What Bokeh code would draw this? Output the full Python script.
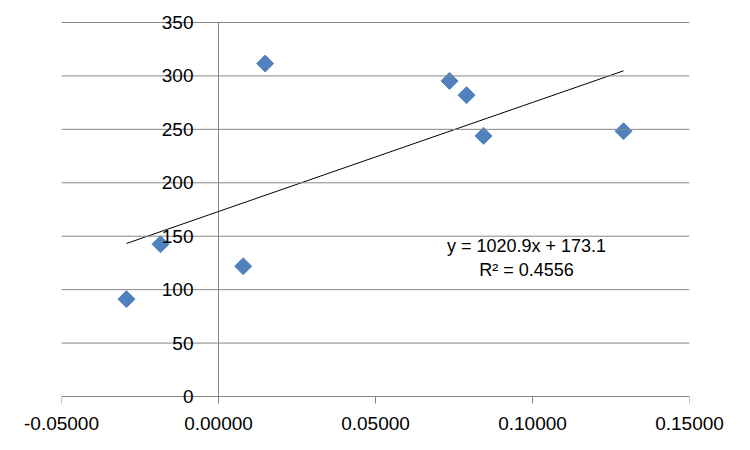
import numpy as np
from bokeh.plotting import figure
from bokeh.models import Range1d, FixedTicker, ColumnDataSource, Span, LabelSet, Label
from bokeh.core.properties import value
from bokeh.embed import file_html
from bokeh.resources import INLINE

# data
x_vals = [0.01487, 0.07357, 0.07900, 0.08440, 0.12900, -0.01847, 0.00786, -0.02930]
y_vals = [311.6, 295.3, 282.0, 243.9, 248.3, 142.5, 121.9, 91.1]
slope = 1020.9
intercept = 173.1
r2 = 0.4556
x_ticks = [-0.05, 0.0, 0.05, 0.10, 0.15]
x_tick_labels = ["-0.05000", "0.00000", "0.05000", "0.10000", "0.15000"]
y_ticks = [0, 50, 100, 150, 200, 250, 300, 350]
y_tick_labels = ["0", "50", "100", "150", "200", "250", "300", "350"]

FONT = "Liberation Sans"
GRAY = "#868686"

# layout (pixels)
FRAME_H_CORE = 374          # pixel span of 0..350
PAD = 10                    # extra frame space above 350 and below 0
PX_PER_UNIT = FRAME_H_CORE / (y_ticks[-1] - y_ticks[0])
pad_u = PAD / PX_PER_UNIT
TOP = 12
BOTTOM = 36
HEIGHT = TOP + FRAME_H_CORE + 2 * PAD + BOTTOM

p = figure(width=734, height=HEIGHT, output_backend="svg", toolbar_location=None,
           x_range=Range1d(x_ticks[0], x_ticks[-1]),
           y_range=Range1d(y_ticks[0] - pad_u, y_ticks[-1] + pad_u),
           min_border_left=61, min_border_right=45, min_border_top=TOP, min_border_bottom=BOTTOM)
p.outline_line_color = None
p.background_fill_color = "white"
p.border_fill_color = "white"

p.yaxis.visible = False
p.xgrid.visible = False
p.ygrid.visible = False

# horizontal gridlines (the one at 0 is the x axis line)
for t in y_ticks:
    p.add_layout(Span(location=t, dimension="width", line_color=GRAY, line_width=1))

# vertical axis line at x = 0
p.segment(x0=[0], y0=[y_ticks[0]], x1=[0], y1=[y_ticks[-1]], line_color=GRAY, line_width=1)

# x ticks, hanging below y = 0
tick_len_u = 7 / PX_PER_UNIT
p.segment(x0=x_ticks, y0=[0] * len(x_ticks), x1=x_ticks, y1=[-tick_len_u] * len(x_ticks),
          line_color=GRAY, line_width=1)

ax = p.xaxis[0]
ax.ticker = FixedTicker(ticks=x_ticks)
ax.major_label_overrides = {t: l for t, l in zip(x_ticks, x_tick_labels)}
ax.axis_line_color = None
ax.major_tick_line_color = None
ax.major_tick_in = 0
ax.major_tick_out = 0
ax.minor_tick_line_color = None
ax.major_label_standoff = 10
ax.major_label_text_font = FONT
ax.major_label_text_font_size = "19px"
ax.major_label_text_color = "black"

# y tick labels next to the crossing axis
ysrc = ColumnDataSource(dict(x=[0] * len(y_ticks), y=y_ticks, t=y_tick_labels))
p.add_layout(LabelSet(x="x", y="y", text="t", source=ysrc, x_offset=-25, text_align="right",
                      text_baseline="middle", text_font=value(FONT), text_font_size="19px",
                      text_color="black"))

# trendline
xs = np.array([min(x_vals), max(x_vals)])
p.line(xs, slope * xs + intercept, line_color="black", line_width=1)

# points
p.scatter(x_vals, y_vals, marker="square", angle=np.pi / 4, size=12,
          fill_color="#4F81BD", line_color="#4F81BD")

# equation
p.add_layout(Label(x=0.0981, y=140.7, text=f"y = {slope}x + {intercept}", text_align="center",
                   text_baseline="middle", text_font=FONT, text_font_size="18px",
                   text_color="black"))
p.add_layout(Label(x=0.0981, y=118.5, text=f"R² = {r2}", text_align="center",
                   text_baseline="middle", text_font=FONT, text_font_size="18px",
                   text_color="black"))

open("out.html", "w").write(file_html(p, INLINE))
